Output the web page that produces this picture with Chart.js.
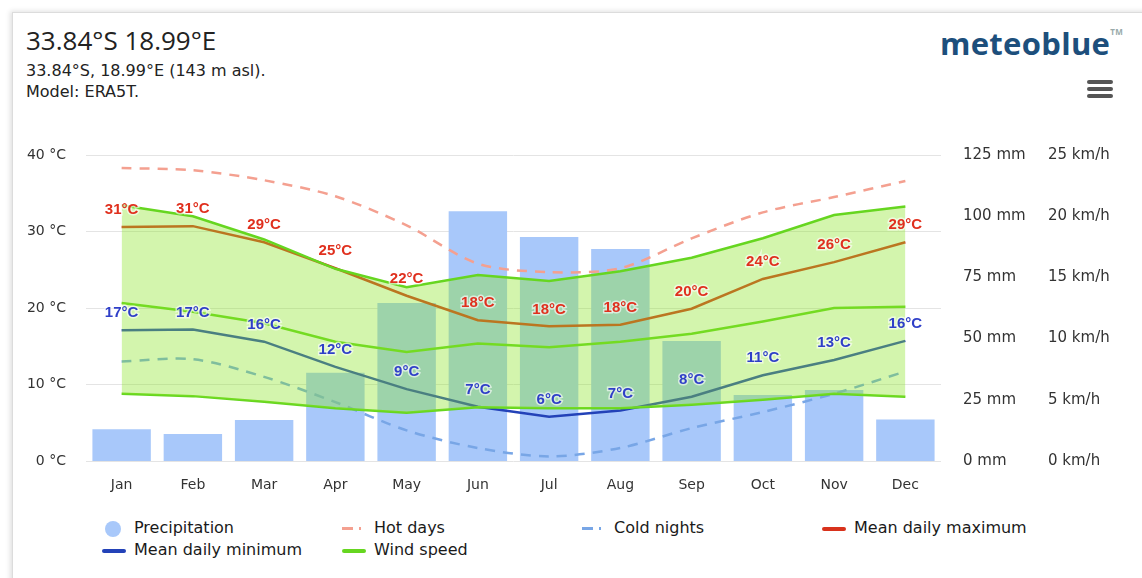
<!DOCTYPE html>
<html>
<head>
<meta charset="utf-8">
<script src="https://cdn.jsdelivr.net/npm/chart.js@4/dist/chart.umd.min.js"></script>
<style>
  body { margin: 0; background: #fff; font-family: "Open Sans", "DejaVu Sans", sans-serif; color: #222; }
  #card { position: absolute; left: 12px; top: 12px; width: 1200px; height: 620px;
          border: 1px solid #dcdcdc; box-shadow: -2px -1px 5px rgba(0,0,0,0.12); }
  #title { position: absolute; left: 26px; top: 22px; font-size: 26px; color: #222; }
  #sub { position: absolute; left: 26px; top: 60px; font-family: "DejaVu Sans", sans-serif; font-size: 16px; line-height: 21px; color: #222; }
  #logo { position: absolute; left: 940px; top: 22px; font-size: 31px; font-weight: bold; color: #1d4f7c; letter-spacing: 0.3px; }
  #logo sup { font-size: 8px; color: #9aa; vertical-align: 20px; }
  #menu { position: absolute; left: 1087px; top: 80px; width: 26px; }
  #menu div { height: 4px; background: #555; border-radius: 2px; margin-bottom: 3px; }
  #wrap { position: absolute; left: 0; top: 124px; width: 1142px; height: 377px; }
  #wrap canvas { display: block; }
  #legend { position: absolute; left: 0; top: 517px; width: 1142px; font-family: "DejaVu Sans", sans-serif; font-size: 16px; color: #1a1a1a; }
  .item { position: absolute; height: 22px; line-height: 22px; white-space: nowrap; }
  .mark { display: inline-block; vertical-align: middle; margin-right: 8px; }
</style>
</head>
<body>
<div id="card"></div>
<div id="title">33.84°S 18.99°E</div>
<div id="sub">33.84°S, 18.99°E (143 m asl).<br>Model: ERA5T.</div>
<div id="logo">meteoblue<sup>TM</sup></div>
<div id="menu"><div></div><div></div><div></div></div>
<div id="wrap"><canvas id="chart"></canvas></div>
<div id="legend"></div>
<script>
const months = ['Jan', 'Feb', 'Mar', 'Apr', 'May', 'Jun', 'Jul', 'Aug', 'Sep', 'Oct', 'Nov', 'Dec']
const precipitation = [13, 11, 16.7, 36, 64.5, 102, 91.5, 86.6, 49, 27, 29, 17]
const hotDays = [38.3, 38.0, 36.7, 34.6, 30.8, 25.8, 24.7, 25.2, 29.1, 32.5, 34.5, 36.6]
const coldNights = [13.0, 13.3, 11.0, 7.7, 4.0, 1.7, 0.6, 1.7, 4.3, 6.4, 8.8, 11.7]
const meanMax = [30.6, 30.7, 28.6, 25.2, 21.6, 18.4, 17.6, 17.8, 19.9, 23.8, 26.0, 28.6]
const meanMin = [17.1, 17.2, 15.6, 12.3, 9.4, 7.1, 5.8, 6.6, 8.4, 11.2, 13.2, 15.7]
const windTop = [20.9, 20.0, 18.1, 15.7, 14.2, 15.2, 14.7, 15.5, 16.6, 18.2, 20.1, 20.8]
const windMean = [12.9, 12.2, 11.25, 9.75, 8.9, 9.6, 9.3, 9.75, 10.4, 11.4, 12.5, 12.6]
const windLow = [5.5, 5.3, 4.85, 4.3, 3.95, 4.4, 4.3, 4.3, 4.6, 5.0, 5.5, 5.25]
const tempTicks = [0, 10, 20, 30, 40]

const barBlue = '#a8c8fa'
const hotCol = '#f4a090'
const coldCol = '#78a6e6'
const maxCol = '#d8321c'
const minCol = '#2342b8'
const windCol = '#66d620'
const windFill = 'rgba(140,228,40,0.38)'

// value labels above the max / min lines
const valueLabels = {
  id: 'valueLabels',
  afterDatasetsDraw(chart) {
    const ctx = chart.ctx
    ctx.save()
    ctx.font = 'bold 15px "Liberation Sans", sans-serif'
    ctx.textAlign = 'center'
    ctx.textBaseline = 'middle'
    chart.data.datasets.forEach((ds, i) => {
      if (!ds.labelColor) return
      chart.getDatasetMeta(i).data.forEach((pt, j) => {
        const txt = Math.round(ds.data[j]) + '°C'
        ctx.lineWidth = 3
        ctx.strokeStyle = 'rgba(255,255,255,0.6)'
        ctx.strokeText(txt, pt.x, pt.y - 17)
        ctx.fillStyle = ds.labelColor
        ctx.fillText(txt, pt.x, pt.y - 17)
      })
    })
    ctx.restore()
  }
}

const leftFont = { family: '"DejaVu Sans", sans-serif', size: 14 }
const rightFont = { family: '"DejaVu Sans", sans-serif', size: 15 }

let chart = new Chart(document.getElementById('chart'), {
  type: 'bar',
  data: {
    labels: months,
    datasets: [
      { type: 'bar', label: 'Precipitation', data: precipitation, yAxisID: 'yP',
        backgroundColor: barBlue, barPercentage: 0.82, categoryPercentage: 1, order: 6 },
      { type: 'line', label: 'Hot days', data: hotDays, yAxisID: 'yT', borderColor: hotCol,
        borderWidth: 2.5, borderDash: [10, 8], pointRadius: 0, tension: 0.3, order: 5 },
      { type: 'line', label: 'Cold nights', data: coldNights, yAxisID: 'yT', borderColor: coldCol,
        borderWidth: 2.5, borderDash: [10, 8], pointRadius: 0, tension: 0.3, order: 5 },
      { type: 'line', label: 'Mean daily maximum', data: meanMax, yAxisID: 'yT', borderColor: maxCol,
        borderWidth: 2.5, pointRadius: 0, tension: 0, order: 4, labelColor: '#e0301e' },
      { type: 'line', label: 'Mean daily minimum', data: meanMin, yAxisID: 'yT', borderColor: minCol,
        borderWidth: 2.5, pointRadius: 0, tension: 0, order: 4, labelColor: '#2f3fc8' },
      { type: 'line', label: 'Wind speed', data: windTop, yAxisID: 'yW', borderColor: windCol,
        borderWidth: 2.5, pointRadius: 0, tension: 0, order: 1,
        fill: { target: '+2', above: windFill, below: windFill } },
      { type: 'line', label: 'Wind speed mean', data: windMean, yAxisID: 'yW', borderColor: windCol,
        borderWidth: 2.5, pointRadius: 0, tension: 0, order: 1 },
      { type: 'line', label: 'Wind speed low', data: windLow, yAxisID: 'yW', borderColor: windCol,
        borderWidth: 2.5, pointRadius: 0, tension: 0, order: 1 }
    ]
  },
  options: {
    responsive: true,
    maintainAspectRatio: false,
    animation: false,
    layout: { autoPadding: false, padding: { top: 19, bottom: 0, left: 0, right: 0 } },
    plugins: { legend: { display: false }, tooltip: { enabled: false } },
    scales: {
      x: {
        grid: { display: false }, border: { display: false },
        ticks: { color: '#333', font: { family: '"DejaVu Sans", sans-serif', size: 14 }, padding: 8 },
        afterFit: s => { s.height = 40 }
      },
      yT: {
        position: 'left', min: 0, max: 40,
        afterBuildTicks: s => { s.ticks = tempTicks.map(v => ({ value: v })) },
        grid: { color: '#e4e4e4', drawTicks: false }, border: { display: false },
        ticks: { color: '#333', font: leftFont, padding: 20, callback: v => v + ' °C' },
        afterFit: s => { s.width = 86 }
      },
      yP: {
        position: 'right', min: 0, max: 125, weight: 0,
        grid: { display: false, drawTicks: false }, border: { display: false },
        ticks: { stepSize: 25, color: '#333', font: rightFont, padding: 22, callback: v => v + ' mm' },
        afterFit: s => { s.width = 85 }
      },
      yW: {
        position: 'right', min: 0, max: 25, weight: 1,
        grid: { display: false, drawTicks: false }, border: { display: false },
        ticks: { stepSize: 5, color: '#333', font: rightFont, padding: 22, callback: v => v + ' km/h' },
        afterFit: s => { s.width = 116 }
      }
    }
  },
  plugins: [valueLabels]
})

// legend built from the datasets
const legendItems = [
  { label: 'Precipitation', kind: 'circle', color: barBlue, x: 104, y: 0 },
  { label: 'Hot days', kind: 'dash', color: hotCol, x: 342, y: 0 },
  { label: 'Cold nights', kind: 'dash', color: coldCol, x: 582, y: 0 },
  { label: 'Mean daily maximum', kind: 'line', color: maxCol, x: 822, y: 0 },
  { label: 'Mean daily minimum', kind: 'line', color: minCol, x: 102, y: 22 },
  { label: 'Wind speed', kind: 'line', color: windCol, x: 342, y: 22 }
]
const legend = document.getElementById('legend')
legendItems.forEach(it => {
  const el = document.createElement('div')
  el.className = 'item'
  el.style.left = it.x + 'px'
  el.style.top = it.y + 'px'
  let mark
  if (it.kind === 'circle') {
    mark = '<span class="mark" style="width:16px;height:16px;border-radius:8px;background:' + it.color + ';margin-left:1px;margin-right:13px"></span>'
  } else if (it.kind === 'dash') {
    mark = '<span class="mark" style="width:24px;height:3px;background:linear-gradient(90deg,' + it.color + ' 0 45%,transparent 45% 70%,' + it.color + ' 70% 80%,transparent 80%)"></span>'
  } else {
    mark = '<span class="mark" style="width:24px;height:4px;border-radius:2px;background:' + it.color + '"></span>'
  }
  el.innerHTML = mark + it.label
  legend.appendChild(el)
})
</script>
</body>
</html>
